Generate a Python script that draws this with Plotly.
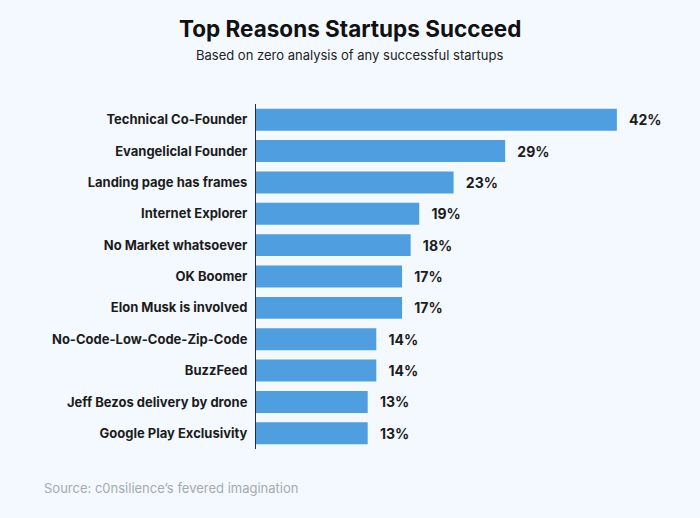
import plotly.graph_objects as go

reasons = ['Technical Co-Founder', 'Evangeliclal Founder', 'Landing page has frames',
           'Internet Explorer', 'No Market whatsoever', 'OK Boomer', 'Elon Musk is involved',
           'No-Code-Low-Code-Zip-Code', 'BuzzFeed', 'Jeff Bezos delivery by drone',
           'Google Play Exclusivity']
share = [42, 29, 23, 19, 18, 17, 17, 14, 14, 13, 13]

W, H = 700, 518
left, right, top, bottom = 256, 23, 104, 69
plot_w = W - left - right
plot_h = H - top - bottom

def px_x(pix):
    # pixel column from left -> paper x
    return (pix - left) / plot_w

def px_y(pix):
    # pixel row from top -> paper y
    return (H - bottom - pix) / plot_h

fig = go.Figure(go.Bar(
    x=share,
    y=reasons,
    orientation='h',
    marker=dict(color='#4f9fe0', line=dict(width=0)),
    text=[f'\u2002\u2009{v}%' for v in share],
    textposition='outside',
    textfont=dict(family='Inter', size=14, color='#1c1c1c', weight='bold'),
    cliponaxis=False,
))

fig.update_layout(
    width=W, height=H,
    margin=dict(l=left, r=right, t=top, b=bottom),
    paper_bgcolor='#f3f9fe',
    plot_bgcolor='#f3f9fe',
    bargap=0.3,
    showlegend=False,
    xaxis=dict(range=[0, 49], visible=False),
    yaxis=dict(autorange='reversed', showline=True, linecolor='#1f2d3d', linewidth=1,
               showgrid=False, ticks='', ticklabelstandoff=5,
               tickfont=dict(family='Inter', size=13, color='#1c1c1c', weight='bold')),
    annotations=[
        dict(text='Top Reasons Startups Succeed', x=px_x(350), y=px_y(28),
             xref='paper', yref='paper', showarrow=False, xanchor='center', yanchor='middle',
             font=dict(family='Inter', size=22.5, color='#111111', weight='bold')),
        dict(text='Based on zero analysis of any successful startups', x=px_x(350), y=px_y(55),
             xref='paper', yref='paper', showarrow=False, xanchor='center', yanchor='middle',
             font=dict(family='Inter', size=13, color='#222222')),
        dict(text='Source: c0nsilience’s fevered imagination', x=px_x(42), y=px_y(488),
             xref='paper', yref='paper', showarrow=False, xanchor='left', yanchor='middle',
             font=dict(family='Inter', size=13, color='#a3abb3')),
    ],
)

fig.write_html('out.html', config={'displayModeBar': False},
               post_script="document.body.style.margin='0';")
